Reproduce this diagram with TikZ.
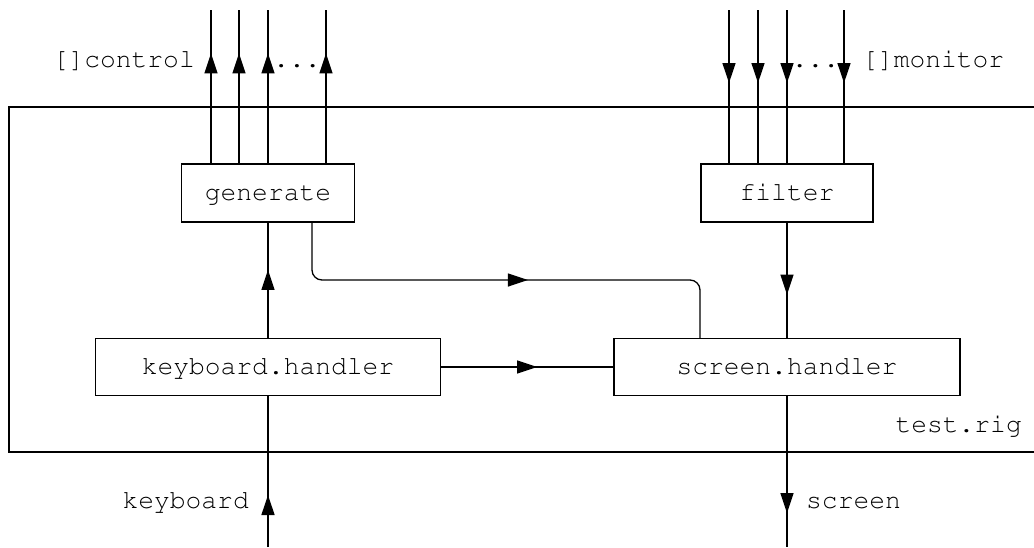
\documentclass[tikz,border=0pt]{standalone}
\usepackage[T1]{fontenc}
\usepackage{courier}
\usetikzlibrary{arrows.meta,decorations.markings}

\tikzset{
  txt/.style={font=\ttfamily\fontsize{26.3}{28}\selectfont},
  box/.style={draw, line width=1.3pt, txt, inner sep=0pt, text height=20pt, text depth=5pt},
  lbl/.style={txt, inner sep=0pt},
  wire/.style={line width=1.3pt},
  tipat/.style={postaction={decorate},
    decoration={markings, mark=at position #1 with {\arrow{Triangle[length=20pt,width=13pt]}}}},
}

\begin{document}
\begin{tikzpicture}[x=1pt,y=-1pt]
  \clip (0,0) rectangle (1034,547);
  \fill[white] (0,0) rectangle (1034,547);

  % enclosing process
  \node[draw, line width=1.3pt, minimum width=1031pt, minimum height=345pt] (rig) at (524.5,279.5) {};
  \node[lbl, anchor=base east] (riglbl) at (1022,432) {test.rig};

  % components
  \node[box, minimum width=173pt, minimum height=58pt] (gen) at (268,193) {generate};
  \node[box, minimum width=172pt, minimum height=58pt] (fil) at (787,193) {filter};
  \node[box, minimum width=345pt, minimum height=57pt] (kh) at (268,367) {keyboard.handler};
  \node[box, minimum width=346pt, minimum height=57pt] (sh) at (787,367) {screen.handler};

  % external channel ends
  \coordinate (c1) at (211,10);
  \coordinate (c2) at (239,10);
  \coordinate (c3) at (268,10);
  \coordinate (c4) at (326,10);
  \coordinate (m1) at (729,10);
  \coordinate (m2) at (758,10);
  \coordinate (m3) at (787,10);
  \coordinate (m4) at (844,10);
  \coordinate (kin) at (268,547);
  \coordinate (sout) at (787,547);

  % control outputs
  \foreach \c in {c1,c2,c3,c4}
    \draw[wire, tipat=110pt] (gen.north -| \c) -- (\c);
  \node[lbl, anchor=base east] (ctl) at (195,67) {[]control};
  \node[lbl, anchor=base] (cdots) at (297,67) {...};

  % monitor inputs
  \foreach \m in {m1,m2,m3,m4}
    \draw[wire, tipat=73pt] (\m) -- (fil.north -| \m);
  \node[lbl, anchor=base west] (mon) at (862,67) {[]monitor};
  \node[lbl, anchor=base] (mdots) at (815.5,67) {...};

  % internal channels
  \draw[wire, tipat=68pt] (kh.north) -- (gen.south);
  \draw[wire, tipat=72pt] (fil.south) -- (sh.north);
  \coordinate (gtap) at (312,280);
  \coordinate (stap) at (700,280);
  \draw[wire, rounded corners=10pt, tipat=269pt]
    (gen.south -| gtap) -- (gtap) -- (stap) -- (sh.north -| stap);
  \draw[wire, tipat=96pt] (kh.east) -- (sh.west);

  % keyboard and screen
  \draw[wire, tipat=52pt] (kin) -- (kh.south);
  \draw[wire, tipat=117pt] (sh.south) -- (sout);
  \node[lbl, anchor=base east] (kbd) at (249,508) {keyboard};
  \node[lbl, anchor=base west] (scr) at (806,508) {screen};
\end{tikzpicture}
\end{document}
